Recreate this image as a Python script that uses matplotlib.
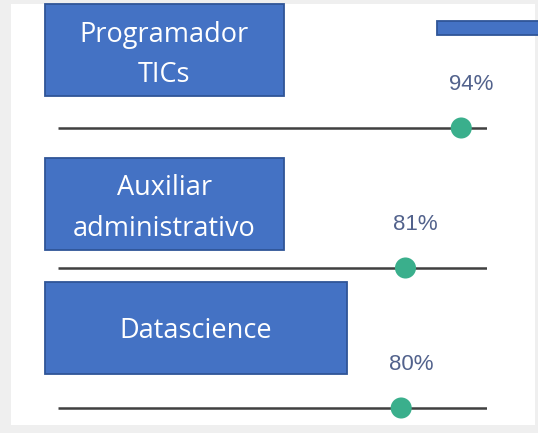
import matplotlib
matplotlib.use("Agg")
import matplotlib.pyplot as plt
from matplotlib.patches import Rectangle

# ---- data ----
roles = ["Programador\nTICs", "Auxiliar\nadministrativo", "Datascience"]
values = [94, 81, 80]
value_labels = ["94%", "81%", "80%"]

W, H = 538, 433
fig = plt.figure(figsize=(W / 100, H / 100), dpi=100)
fig.patch.set_facecolor("#efefef")

# pixel-space overlay for decorations
bg = fig.add_axes([0, 0, 1, 1])
bg.set_xlim(0, W)
bg.set_ylim(H, 0)
bg.axis("off")
bg.add_patch(Rectangle((11, 4), 524, 421, facecolor="white", edgecolor="none", zorder=0))

box_fc = "#4472c4"
box_ec = "#2f5597"
boxes = [(45, 4, 239, 92), (45, 158, 239, 92), (45, 282, 302, 92)]
text_baselines = [[42, 82], [195, 236], [338]]
for (x, y, w, h), role, bls in zip(boxes, roles, text_baselines):
    bg.add_patch(Rectangle((x, y), w, h, facecolor=box_fc, edgecolor=box_ec, lw=1.3, zorder=2))
    for line, b in zip(role.split("\n"), bls):
        bg.text(x + w / 2, b, line, ha="center", va="baseline", color="white",
                fontsize=19.5, family="Open Sans", zorder=3)

# small bar at top right
bg.add_patch(Rectangle((437, 21), 110, 14, facecolor=box_fc, edgecolor=box_ec, lw=1.3, zorder=2))

# slider rows
x0, x1 = 58, 487
line_y = [128, 268, 408]
for v, lab, ly in zip(values, value_labels, line_y):
    ax = fig.add_axes([x0 / W, 1 - (ly + 20) / H, (x1 - x0) / W, 40 / H])
    ax.set_xlim(0, 100)
    ax.set_ylim(-1, 1)
    ax.axis("off")
    ax.patch.set_alpha(0)
    ax.plot([0, 100], [0, 0], color="#404040", lw=1.8, solid_capstyle="butt", zorder=1)
    ax.scatter([v], [0], s=230, color="#3aaf8c", edgecolors="none", zorder=3, clip_on=False)
    ax.annotate(lab, (v, 0), xytext=(7, 31), textcoords="offset points",
                ha="center", va="center", color="#52628c", fontsize=16,
                family="Liberation Sans", annotation_clip=False)

fig.savefig("out.png", dpi=100)
